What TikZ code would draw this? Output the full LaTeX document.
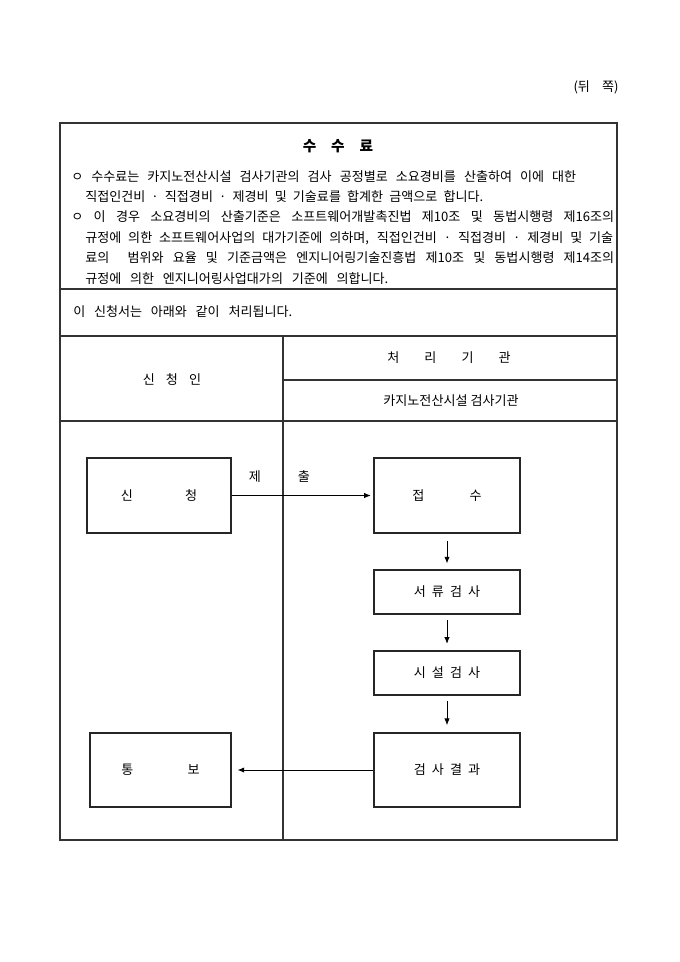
\documentclass[tikz,border=0pt]{standalone}
\usepackage{fontspec}
\setmainfont{Noto Sans CJK KR}
\usetikzlibrary{arrows.meta}
\newlength\upx \setlength\upx{0.75pt}
\newcommand\jline[2]{\makebox[#1\upx][s]{#2}}
\begin{document}
\begin{tikzpicture}[x=0.75pt,y=-0.75pt,
  tbl/.style={line width=0.85pt, draw=black!80},
  txt/.style={inner sep=0pt, font=\fontsize{9.8pt}{11pt}\selectfont},
  lefttxt/.style={txt, anchor=west},
  flowbox/.style={draw=black!85, line width=0.8pt, inner sep=0pt, font=\fontsize{9.8pt}{11pt}\selectfont},
  arr/.style={-{Latex[length=5pt,width=4pt]}, line width=0.6pt, draw=black}]
\useasboundingbox (0,0) rectangle (680,962);

% header note
\node[txt] (side) at (596,87) {(뒤\hspace{12\upx}쪽)};

% table frame
\draw[tbl] (60,123) rectangle (617,840);
\draw[tbl] (60,289) -- (617,289);
\draw[tbl] (60,336) -- (617,336);
\draw[tbl] (283,380) -- (617,380);
\draw[tbl] (60,421) -- (617,421);
\draw[tbl] (283,336) -- (283,840);

% fee section
\node[txt, font=\fontsize{11pt}{12pt}\selectfont\bfseries] (title) at (338,146) {수\hspace{15\upx}수\hspace{15\upx}료};
\node[lefttxt] (l1) at (71,177) {\jline{505}{ㅇ 수수료는 카지노전산시설 검사기관의 검사 공정별로 소요경비를 산출하여 이에 대한}};
\node[lefttxt] (l2) at (85,197) {\jline{398}{직접인건비 · 직접경비 · 제경비 및 기술료를 합계한 금액으로 합니다.}};
\node[lefttxt] (l3) at (71,217) {\jline{543}{ㅇ 이 경우 소요경비의 산출기준은 소프트웨어개발촉진법 제10조 및 동법시행령 제16조의}};
\node[lefttxt] (l4) at (85,238) {\jline{528}{규정에 의한 소프트웨어사업의 대가기준에 의하며, 직접인건비 · 직접경비 · 제경비 및 기술}};
\node[lefttxt] (l5) at (85,258) {\jline{529}{료의\ \ 범위와 요율 및 기준금액은 엔지니어링기술진흥법 제10조 및 동법시행령 제14조의}};
\node[lefttxt] (l6) at (85,279) {\jline{303}{규정에 의한 엔지니어링사업대가의 기준에 의합니다.}};

\node[lefttxt] (note) at (73,312) {\jline{219}{이 신청서는 아래와 같이 처리됩니다.}};

% column headers
\node[txt] (hA) at (172,380) {신\hspace{11\upx}청\hspace{11\upx}인};
\node[txt] (hB) at (449,358) {처\hspace{25\upx}리\hspace{25\upx}기\hspace{25\upx}관};
\node[txt] (hC) at (451,401) {카지노전산시설 검사기관};

% flow boxes
\node[flowbox, minimum width=108pt, minimum height=56.25pt] (app) at (159,495.5) {신\hspace{52\upx}청};
\node[flowbox, minimum width=109.5pt, minimum height=56.25pt] (recv) at (447,495.5) {접\hspace{45\upx}수};
\node[flowbox, minimum width=109.5pt, minimum height=33pt] (doc) at (447,592) {서\hspace{6\upx}류\hspace{6\upx}검\hspace{6\upx}사};
\node[flowbox, minimum width=109.5pt, minimum height=33pt] (fac) at (447,673) {시\hspace{6\upx}설\hspace{6\upx}검\hspace{6\upx}사};
\node[flowbox, minimum width=109.5pt, minimum height=55.5pt] (res) at (447,770) {검\hspace{6\upx}사\hspace{6\upx}결\hspace{6\upx}과};
\node[flowbox, minimum width=105.75pt, minimum height=55.5pt] (noti) at (160.5,770) {통\hspace{54\upx}보};

% connector labels
\node[txt] (lab1) at (255,477) {제};
\node[txt] (lab2) at (304,477) {출};

% connectors
\draw[arr, shorten >=2pt] (app) -- (recv);
\draw[arr, shorten <=5.25pt, shorten >=4.5pt] (recv) -- (doc);
\draw[arr, shorten <=4pt, shorten >=5pt] (doc) -- (fac);
\draw[arr, shorten <=4pt, shorten >=5.5pt] (fac) -- (res);
\draw[arr, shorten >=4.5pt] (res) -- (noti);
\end{tikzpicture}
\end{document}
